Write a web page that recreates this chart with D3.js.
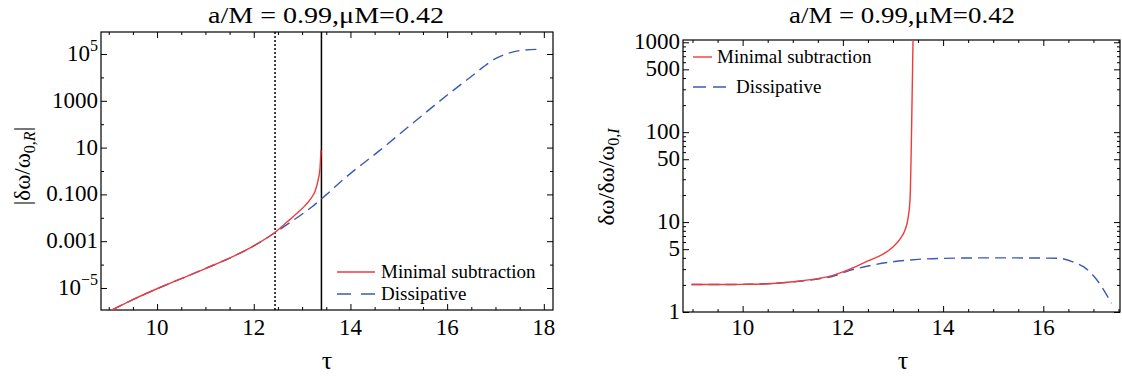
<!doctype html>
<html lang="en">
<head>
<meta charset="utf-8">
<title>a/M = 0.99, muM = 0.42</title>
<script src="https://d3js.org/d3.v7.min.js"></script>
<style>
    body { margin: 0; background: #fff; }
    text { font-family: "Liberation Serif", "Times New Roman", serif; fill: #000; }
</style>
</head>
<body>
<svg width="1122" height="384"></svg>
<script>
// ---- data ----
var titleText = "a/M = 0.99,\u03bcM=0.42";

// left panel |dw/w0,R|
var leftMinTau = [9.07, 9.5, 10, 10.5, 11, 11.5, 12, 12.44, 12.7, 12.9, 13.05, 13.18, 13.27, 13.33, 13.37, 13.39];
var leftMinVal = [1.15e-6, 3.2e-6, 9.3e-6, 2.5e-5, 6.8e-5, 1.9e-4, 6.3e-4, 2.4e-3, 6.9e-3, 1.6e-2, 3.16e-2, 6.6e-2, 0.14, 0.4, 1.3, 8];
var leftDisTau = [9.07, 9.5, 10, 10.5, 11, 11.5, 12, 12.44, 12.75, 13.2, 13.53, 13.85, 14.6, 15.3, 16.05, 16.5, 16.75, 17.0, 17.22, 17.5, 17.95];
var leftDisVal = [1.15e-6, 3.2e-6, 9.3e-6, 2.5e-5, 6.8e-5, 1.9e-4, 6.3e-4, 2.3e-3, 6.3e-3, 2.9e-2, 0.11, 0.43, 7.4, 115, 2100, 1.1e4, 2.8e4, 6.3e4, 1.0e5, 1.4e5, 1.6e5];
var leftXTicks = [10, 12, 14, 16, 18];
var leftYTicks = [1e-5, 1e-3, 0.1, 10, 1000, 1e5];
var leftYLabels = ["10^\u22125", "0.001", "0.100", "10", "1000", "10^5"];
var tauDotted = 12.44;
var tauSolid = 13.40;

// right panel dw/dw/w0,I
var rightMinTau = [8.98, 9.5, 10, 10.5, 11, 11.5, 11.8, 12.14, 12.5, 12.8, 13.0, 13.15, 13.24, 13.3, 13.34, 13.37, 13.4];
var rightMinVal = [2.02, 2.02, 2.03, 2.06, 2.17, 2.35, 2.55, 3.0, 3.7, 4.4, 5.3, 6.6, 8.15, 11, 17.6, 97, 1060];
var rightDisTau = [8.98, 9.5, 10, 10.5, 11, 11.5, 11.8, 12.14, 12.5, 13.0, 13.5, 14, 15, 16, 16.33, 16.65, 16.8, 17.07, 17.36];
var rightDisVal = [2.02, 2.02, 2.03, 2.06, 2.16, 2.33, 2.5, 2.9, 3.25, 3.62, 3.85, 3.95, 4.0, 3.98, 3.95, 3.5, 3.19, 2.27, 1.25];
var rightXTicks = [10, 12, 14, 16];
var rightYTicks = [1, 5, 10, 50, 100, 500, 1000];
var rightYLabels = ["1", "5", "10", "50", "100", "500", "1000"];

var seriesNames = ["Minimal subtraction", "Dissipative"];
var red = "#ee3b3b", blue = "#3a5bb5";
var tickFont = 23;

var svg = d3.select("svg");

function halfSteps(a, b) {
    var out = [];
    for (var t = a; t <= b + 1e-9; t += 0.5) out.push(+t.toFixed(1));
    return out;
}
function logMinors(lo, hi, majors) {
    var out = [];
    for (var e = Math.floor(Math.log10(lo)); e <= Math.ceil(Math.log10(hi)); e++) {
        for (var m = 1; m < 10; m++) {
            var v = m * Math.pow(10, e);
            if (v >= lo && v <= hi && majors.indexOf(v) < 0) out.push(v);
        }
    }
    return out;
}

function drawPanel(p) {
    var x = d3.scaleLinear().domain(p.xDomain).range([p.x0, p.x1]);
    var y = d3.scaleLog().domain(p.yDomain).range([p.y1, p.y0]);
    var g = svg.append("g");

    // inward ticks on all four sides; labels drawn by hand
    g.append("g").attr("transform", "translate(0," + p.y1 + ")")
        .call(d3.axisBottom(x).tickValues(p.xMinor).tickSize(-3).tickFormat(""));
    g.append("g").attr("transform", "translate(0," + p.y0 + ")")
        .call(d3.axisTop(x).tickValues(p.xMinor).tickSize(-3).tickFormat(""));
    g.append("g").attr("transform", "translate(0," + p.y0 + ")")
        .call(d3.axisTop(x).tickValues(p.xTicks).tickSize(-6).tickFormat(""));
    g.append("g").attr("transform", "translate(0," + p.y1 + ")")
        .call(d3.axisBottom(x).tickValues(p.xTicks).tickSize(-6).tickFormat(""));
    g.append("g").attr("transform", "translate(" + p.x0 + ",0)")
        .call(d3.axisLeft(y).tickValues(p.yMinor).tickSize(-3).tickFormat(""));
    g.append("g").attr("transform", "translate(" + p.x1 + ",0)")
        .call(d3.axisRight(y).tickValues(p.yMinor).tickSize(-3).tickFormat(""));
    g.append("g").attr("transform", "translate(" + p.x1 + ",0)")
        .call(d3.axisRight(y).tickValues(p.yTicks).tickSize(-6).tickFormat(""));
    g.append("g").attr("transform", "translate(" + p.x0 + ",0)")
        .call(d3.axisLeft(y).tickValues(p.yTicks).tickSize(-6).tickFormat(""));
    g.selectAll(".domain").remove();
    g.selectAll(".tick text").remove();
    g.selectAll(".tick line").attr("stroke", "#000");

    // tick labels
    g.selectAll(".xlab").data(p.xTicks).enter().append("text")
        .attr("class", "xlab")
        .attr("x", function (d) { return x(d); }).attr("y", p.xLabY)
        .attr("text-anchor", "middle").style("font-size", tickFont + "px")
        .text(function (d) { return d; });
    g.selectAll(".ylab").data(p.yTicks).enter().append("text")
        .attr("class", "ylab")
        .attr("x", p.x0 - 3).attr("y", function (d) { return y(d) + 7; })
        .attr("text-anchor", "end").style("font-size", tickFont + "px")
        .each(function (d, i) {
            var lab = p.yLabels[i];
            var t = d3.select(this);
            if (lab.indexOf("^") >= 0) {
                var parts = lab.split("^");
                t.append("tspan").text(parts[0]);
                t.append("tspan").attr("dy", "-10").style("font-size", "16px").text(parts[1]);
            } else {
                t.text(lab);
            }
        });

    g.append("rect").attr("x", p.x0).attr("y", p.y0)
        .attr("width", p.x1 - p.x0).attr("height", p.y1 - p.y0)
        .attr("fill", "none").attr("stroke", "#000").attr("stroke-width", 1.2);

    var clipId = "clip" + p.id;
    svg.append("clipPath").attr("id", clipId).append("rect")
        .attr("x", p.x0).attr("y", p.y0).attr("width", p.x1 - p.x0).attr("height", p.y1 - p.y0);

    var line = d3.line().x(function (d) { return x(d[0]); }).y(function (d) { return y(d[1]); })
        .curve(d3.curveMonotoneX);
    var plot = g.append("g").attr("clip-path", "url(#" + clipId + ")");

    if (p.vlines) {
        p.vlines.forEach(function (v) {
            plot.append("line").attr("x1", x(v.tau)).attr("x2", x(v.tau))
                .attr("y1", p.y0).attr("y2", p.y1)
                .attr("stroke", "#000").attr("stroke-width", 1.5)
                .attr("stroke-dasharray", v.dash);
        });
    }

    plot.append("path").datum(d3.zip(p.disTau, p.disVal)).attr("d", line)
        .attr("fill", "none").attr("stroke", blue).attr("stroke-width", 1.4)
        .attr("stroke-dasharray", "11,6");
    plot.append("path").datum(d3.zip(p.minTau, p.minVal)).attr("d", line)
        .attr("fill", "none").attr("stroke", red).attr("stroke-width", 1.4);

    // legend
    var lg = p.legend;
    g.append("line").attr("x1", lg.lx0).attr("x2", lg.lx1).attr("y1", lg.y[0]).attr("y2", lg.y[0])
        .attr("stroke", red).attr("stroke-width", 1.4);
    g.append("line").attr("x1", lg.lx0).attr("x2", lg.dx1).attr("y1", lg.y[1]).attr("y2", lg.y[1])
        .attr("stroke", blue).attr("stroke-width", 1.4).attr("stroke-dasharray", lg.dash);
    seriesNames.forEach(function (s, i) {
        g.append("text").attr("x", lg.tx[i]).attr("y", lg.y[i] + 6)
            .style("font-size", "19px").text(s);
    });

    // title
    g.append("text").attr("x", p.titleX).attr("y", 23).attr("text-anchor", "middle")
        .style("font-size", "23px").attr("textLength", p.titleW).attr("lengthAdjust", "spacingAndGlyphs")
        .text(titleText);

    // x label
    g.append("text").attr("x", p.tauX).attr("y", 369).attr("text-anchor", "middle")
        .style("font-size", "26px").text("\u03c4");

    // y label
    var yl = g.append("text")
        .attr("transform", "translate(" + p.yLab[0] + "," + p.yLab[1] + ") rotate(-90)")
        .attr("text-anchor", "middle").style("font-size", "23px");
    yl.append("tspan").text(p.yLabMain);
    yl.append("tspan").attr("dy", "5").style("font-size", "16px").text("0,");
    yl.append("tspan").style("font-size", "16px").style("font-style", "italic").text(p.yLabSub);
    if (p.yLabEnd) yl.append("tspan").attr("dy", "-5").text(p.yLabEnd);
}

drawPanel({
    id: "L", x0: 101, x1: 553, y0: 32, y1: 310,
    xDomain: [8.84, 18.19], yDomain: [Math.pow(10, -5.94), Math.pow(10, 5.94)],
    xTicks: leftXTicks, xMinor: halfSteps(9, 18).filter(function (v) { return leftXTicks.indexOf(v) < 0; }),
    yTicks: leftYTicks, yLabels: leftYLabels,
    yMinor: [1e-4, 1e-2, 1, 100, 1e4],
    xLabY: 335,
    minTau: leftMinTau, minVal: leftMinVal, disTau: leftDisTau, disVal: leftDisVal,
    vlines: [{ tau: tauDotted, dash: "2,2" }, { tau: tauSolid, dash: null }],
    legend: { lx0: 337, lx1: 375, dx1: 375, y: [272, 294], tx: [381, 381], dash: "14,10" },
    titleX: 326, titleW: 236, tauX: 327,
    yLab: [30, 166], yLabMain: "|\u03b4\u03c9/\u03c9", yLabSub: "R", yLabEnd: "|"
});

drawPanel({
    id: "R", x0: 683, x1: 1120, y0: 40, y1: 312,
    xDomain: [8.81, 17.53], yDomain: [1, 1060],
    xTicks: rightXTicks, xMinor: halfSteps(9, 17.5).filter(function (v) { return rightXTicks.indexOf(v) < 0; }),
    yTicks: rightYTicks, yLabels: rightYLabels,
    yMinor: logMinors(1, 1000, rightYTicks),
    xLabY: 335,
    minTau: rightMinTau, minVal: rightMinVal, disTau: rightDisTau, disVal: rightDisVal,
    vlines: null,
    legend: { lx0: 693, lx1: 712, dx1: 726, y: [57, 87], tx: [717, 736], dash: "13,7" },
    titleX: 902, titleW: 226, tauX: 903,
    yLab: [614, 177], yLabMain: "\u03b4\u03c9/\u03b4\u03c9/\u03c9", yLabSub: "I", yLabEnd: null
});
</script>
</body>
</html>
